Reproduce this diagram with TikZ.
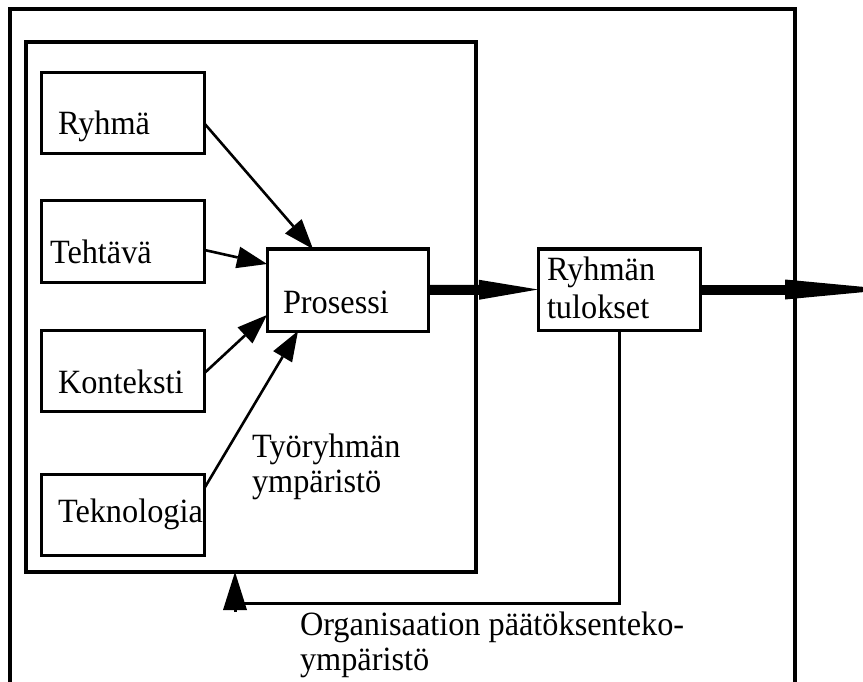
\documentclass[tikz,border=0pt]{standalone}
\usepackage{fontspec}
\setmainfont[FakeStretch=0.95]{Liberation Serif}
\usetikzlibrary{arrows.meta}
\begin{document}
\begin{tikzpicture}[x=1pt,y=-1pt,
  every node/.style={inner sep=0pt, outer sep=0pt},
  lbl/.style={font=\fontsize{34}{34.5}\selectfont, anchor=base west, align=left},
  box/.style={draw, line width=3pt, minimum width=163pt, minimum height=81pt},
  envbox/.style={draw, line width=3.2pt, minimum width=450pt, minimum height=530pt},
  frame/.style={line width=4pt},
  inarrow/.style={line width=2.6pt, -{Triangle[length=30pt 0 0, width=22pt 0 0, line width=0pt 0 0]}},
  bigarrow/.style={line width=10pt, -{Triangle[length=59pt 0 0, width=20pt 0 0, line width=0pt 0 0]}},
  outarrow/.style={line width=10pt, -{Triangle[length=106pt 0 0, width=20pt 0 0, line width=0pt 0 0]}},
  fbline/.style={line width=3pt},
  fbtip/.style={line width=3pt, -{Triangle[length=38pt 0 0, width=24pt 0 0, line width=0pt 0 0]}}
]
\useasboundingbox (0,0) rectangle (863,682);

% organisational decision-making environment (open at the bottom)
\draw[frame] (10,700) -- (10,9) -- (795,9) -- (795,700);

% work group environment
\node[envbox] (env) at (251,307) {};

% input factors
\node[box] (ryhma) at (122.5,113.5) {};
\node[box] (tehtava) at (123,241.5) {};
\node[box] (konteksti) at (123,371) {};
\node[box] (teknologia) at (123,515) {};
\node[lbl] (ryhmaT) at (58,135) {Ryhmä};
\node[lbl] (tehtavaT) at (50,263) {Tehtävä};
\node[lbl] (kontekstiT) at (58,393) {Konteksti};
\node[lbl] (teknologiaT) at (58,522) {Teknologia};

% process and outcome
\node[box, minimum width=161pt, minimum height=82pt] (prosessi) at (347.5,290) {};
\node[lbl] (prosessiT) at (283,313) {Prosessi};
\node[box, minimum width=162pt] (tulokset) at (619,289.5) {};
\node[lbl] (tuloksetT) at (547,318) {Ryhmän\\[3.5pt]tulokset};

% environment labels
\node[lbl] (envT) at (252,492) {Työryhmän\\ympäristö};
\node[lbl] (orgT) at (300,670) {Organisaation päätöksenteko-\\ympäristö};

% inputs into the process
\draw[inarrow] ([yshift=-9.5pt]ryhma.east) -- ([xshift=-34.5pt]prosessi.north);
\draw[inarrow] ([yshift=-8.5pt]tehtava.east) -- ([yshift=26pt]prosessi.west);
\draw[inarrow] ([yshift=-2pt]konteksti.east) -- ([yshift=-25pt]prosessi.west);
\draw[inarrow] ([yshift=27pt]teknologia.east) -- ([xshift=-49.5pt]prosessi.south);

% main flow
\coordinate (out) at (891,289.5);
\draw[bigarrow] (prosessi.east) -- (tulokset.west);
\draw[outarrow] (tulokset.east) -- (out);

% feedback to the work group environment
\draw[fbline] (tulokset.south) |- ([xshift=-16pt,yshift=-31pt]env.south) -- ([xshift=-16pt,yshift=-36pt]env.south);
\draw[fbtip] ([xshift=-16pt,yshift=-40pt]env.south) -- ([xshift=-16pt]env.south);
\end{tikzpicture}
\end{document}
